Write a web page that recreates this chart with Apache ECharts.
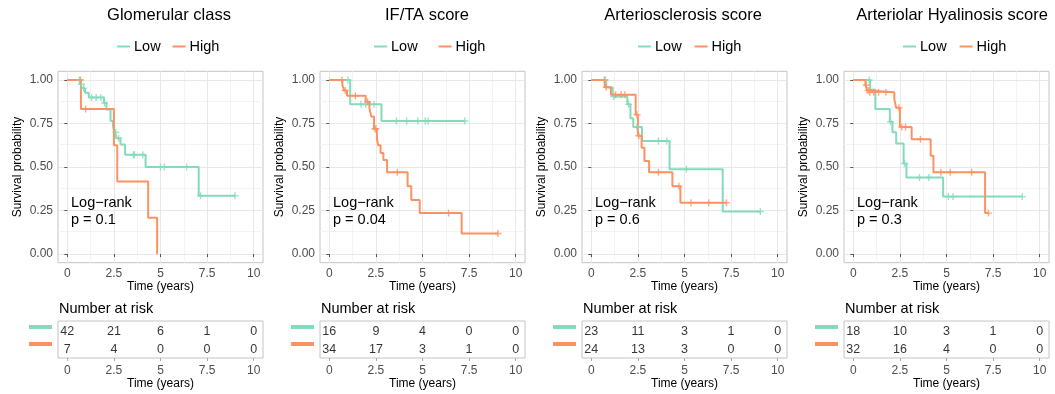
<!DOCTYPE html>
<html><head><meta charset="utf-8">
<script src="https://cdn.jsdelivr.net/npm/echarts@6/dist/echarts.min.js"></script>
<style>html,body{margin:0;padding:0;background:#fff}#c{width:1055px;height:394px}</style>
</head><body><div id="c"></div><script>
// ---------- data ----------
const panelTitles = ['Glomerular class', 'IF/TA score', 'Arteriosclerosis score', 'Arteriolar Hyalinosis score'];
const pValueText = ['p = 0.1', 'p = 0.04', 'p = 0.6', 'p = 0.3'];
const groupNames = ['Low', 'High'];
const xTickValues = [0, 2.5, 5, 7.5, 10];
const yTickValues = [0, 0.25, 0.5, 0.75, 1];
const riskTimes = [0, 2.5, 5, 7.5, 10];

// Panel 1: Glomerular class
const p1LowTime = [0, 0.7, 0.8, 0.95, 1.15, 1.97, 2.1, 2.32, 2.45, 2.55, 2.65, 2.85, 3.1, 4.2, 7.05, 9.0];
const p1LowSurv = [1, 0.976, 0.952, 0.927, 0.90, 0.868, 0.83, 0.765, 0.735, 0.70, 0.665, 0.63, 0.57, 0.50, 0.335, 0.335];
const p1LowCens = [0.65, 0.75, 0.88, 1.3, 1.55, 1.8, 2.0, 2.6, 2.75, 3.55, 3.6, 4.05, 5.0, 5.2, 6.4, 7.15, 9.0];
const p1HighTime = [0, 0.73, 2.5, 2.68, 4.34, 4.82];
const p1HighSurv = [1, 0.833, 0.625, 0.417, 0.208, 0];
const p1HighCens = [0.7, 0.98];
const p1RiskLow = [42, 21, 6, 1, 0];
const p1RiskHigh = [7, 4, 0, 0, 0];

// Panel 2: IF/TA score
const p2LowTime = [0, 1.12, 2.8, 7.27];
const p2LowSurv = [1, 0.86, 0.764, 0.764];
const p2LowCens = [1.0, 1.7, 1.95, 2.4, 3.6, 4.15, 4.75, 5.15, 5.3, 7.27];
const p2HighTime = [0, 0.7, 0.8, 0.95, 1.95, 2.15, 2.25, 2.4, 2.55, 2.62, 2.75, 2.9, 3.1, 4.2, 4.4, 4.85, 7.1, 9.05];
const p2HighSurv = [1, 0.97, 0.94, 0.91, 0.875, 0.84, 0.79, 0.72, 0.665, 0.625, 0.58, 0.54, 0.47, 0.39, 0.31, 0.235, 0.118, 0.118];
const p2HighCens = [0.68, 0.85, 1.4, 2.05, 2.45, 2.5, 3.65, 6.4, 9.05];
const p2RiskLow = [16, 9, 4, 0, 0];
const p2RiskHigh = [34, 17, 3, 1, 0];

// Panel 3: Arteriosclerosis score
const p3LowTime = [0, 0.8, 1.15, 1.93, 2.1, 2.25, 2.72, 4.2, 7.05, 9.07];
const p3LowSurv = [1, 0.957, 0.905, 0.86, 0.78, 0.73, 0.65, 0.487, 0.244, 0.244];
const p3LowCens = [0.75, 1.2, 2.0, 2.45, 3.6, 4.05, 5.1, 9.07];
const p3HighTime = [0, 0.72, 1.05, 2.38, 2.5, 2.7, 2.85, 3.1, 4.35, 4.78, 7.25];
const p3HighSurv = [1, 0.958, 0.915, 0.80, 0.68, 0.61, 0.535, 0.47, 0.39, 0.295, 0.295];
const p3HighCens = [0.7, 0.8, 1.3, 1.6, 1.8, 2.45, 2.55, 3.6, 4.7, 5.35, 6.3, 7.25];
const p3RiskLow = [23, 11, 3, 1, 0];
const p3RiskHigh = [24, 13, 3, 0, 0];

// Panel 4: Arteriolar Hyalinosis score
const p4LowTime = [0, 0.9, 1.18, 1.96, 2.1, 2.3, 2.7, 2.85, 4.82, 9.07];
const p4LowSurv = [1, 0.944, 0.833, 0.76, 0.70, 0.635, 0.52, 0.44, 0.33, 0.33];
const p4LowCens = [0.85, 2.0, 2.75, 3.55, 4.05, 5.1, 5.35, 9.07];
const p4HighTime = [0, 0.65, 0.75, 0.85, 2.2, 2.3, 2.5, 3.13, 4.15, 4.3, 7.07, 7.25];
const p4HighSurv = [1, 0.97, 0.94, 0.93, 0.89, 0.84, 0.73, 0.66, 0.565, 0.47, 0.235, 0.235];
const p4HighCens = [0.7, 0.8, 0.88, 1.1, 1.35, 1.75, 2.45, 2.6, 2.8, 3.6, 4.7, 5.2, 6.35, 7.25];
const p4RiskLow = [18, 10, 3, 1, 0];
const p4RiskHigh = [32, 16, 4, 0, 0];

// ---------- build ----------
const panels = [
  {lt: p1LowTime, ls: p1LowSurv, lc: p1LowCens, ht: p1HighTime, hs: p1HighSurv, hc: p1HighCens, rl: p1RiskLow, rh: p1RiskHigh},
  {lt: p2LowTime, ls: p2LowSurv, lc: p2LowCens, ht: p2HighTime, hs: p2HighSurv, hc: p2HighCens, rl: p2RiskLow, rh: p2RiskHigh},
  {lt: p3LowTime, ls: p3LowSurv, lc: p3LowCens, ht: p3HighTime, hs: p3HighSurv, hc: p3HighCens, rl: p3RiskLow, rh: p3RiskHigh},
  {lt: p4LowTime, ls: p4LowSurv, lc: p4LowCens, ht: p4HighTime, hs: p4HighSurv, hc: p4HighCens, rl: p4RiskLow, rh: p4RiskHigh}
];
const GREEN = '#84dbba';
const ORANGE = '#fc9262';
const FONT = '"Liberation Sans", Arial, Helvetica, sans-serif';
const offsets = [0, 262, 524, 786];
const titleCenters = [169, 427, 683, 952];
const legendLefts = [117, 374, 638, 903];
const legendGaps = [12, 21, 13, 13];
const PLUS = 'path://M4,0H6V4H10V6H6V10H4V6H0V4H4Z';

function survAt(times, surv, t) {
  let v = surv[0];
  for (let i = 0; i < times.length; i++) { if (times[i] <= t) v = surv[i]; }
  return v;
}
function zip(a, b) { return a.map((v, i) => [v, b[i]]); }

const grids = [], xAxes = [], yAxes = [], series = [], titles = [], legends = [], graphics = [];

panels.forEach((p, i) => {
  const off = offsets[i];
  grids.push({left: 58 + off, top: 71.3, width: 205, height: 191.4, show: true, borderColor: '#c4c4c4', borderWidth: 1, backgroundColor: '#fff'});
  xAxes.push({
    gridIndex: i, type: 'value', min: -0.5, max: 10.5,
    axisLine: {show: false},
    axisTick: {show: true, length: 3, lineStyle: {color: '#555'}, customValues: xTickValues},
    axisLabel: {customValues: xTickValues, fontSize: 12, color: '#4d4d4d', margin: 5, fontFamily: FONT, formatter: v => String(v)},
    splitLine: {show: false},
    name: 'Time (years)', nameLocation: 'middle', nameGap: 17,
    nameTextStyle: {fontSize: 12, color: '#000', fontFamily: FONT}
  });
  yAxes.push({
    gridIndex: i, type: 'value', min: -0.05, max: 1.05,
    axisLine: {show: false},
    axisTick: {show: true, length: 3, lineStyle: {color: '#555'}, customValues: yTickValues},
    axisLabel: {customValues: yTickValues, fontSize: 12, color: '#4d4d4d', margin: 5, fontFamily: FONT, formatter: v => v.toFixed(2)},
    splitLine: {show: false},
    name: 'Survival probability', nameLocation: 'middle', nameGap: 34, nameRotate: 90,
    nameTextStyle: {fontSize: 12, color: '#000', fontFamily: FONT}
  });
});
panels.forEach((p, i) => {
  const off = offsets[i];
  grids.push({left: 58 + off, top: 321, width: 205, height: 37, show: true, borderColor: '#c4c4c4', borderWidth: 1});
  xAxes.push({
    gridIndex: 4 + i, type: 'value', min: -0.5, max: 10.5,
    axisLine: {show: false},
    axisTick: {show: true, length: 3, lineStyle: {color: '#aaa'}, customValues: xTickValues},
    axisLabel: {customValues: xTickValues, fontSize: 12, color: '#4d4d4d', margin: 7, fontFamily: FONT, formatter: v => String(v)},
    splitLine: {show: false},
    name: 'Time (years)', nameLocation: 'middle', nameGap: 20,
    nameTextStyle: {fontSize: 12, color: '#000', fontFamily: FONT}
  });
  yAxes.push({
    gridIndex: 4 + i, type: 'category', data: groupNames, inverse: true,
    axisLine: {show: false}, axisTick: {show: false}, axisLabel: {show: false}, splitLine: {show: false}
  });
});

panels.forEach((p, i) => {
  const off = offsets[i];
  // grid lines
  const ml = [];
  [1.25, 3.75, 6.25, 8.75].forEach(v => ml.push({xAxis: v, lineStyle: {color: '#f4f4f4', width: 1}}));
  [0.125, 0.375, 0.625, 0.875].forEach(v => ml.push({yAxis: v, lineStyle: {color: '#f4f4f4', width: 1}}));
  xTickValues.forEach(v => ml.push({xAxis: v, lineStyle: {color: '#e8e8e8', width: 1}}));
  yTickValues.forEach(v => ml.push({yAxis: v, lineStyle: {color: '#e8e8e8', width: 1}}));
  series.push({
    type: 'line', name: 'grid' + i, xAxisIndex: i, yAxisIndex: i, data: [], z: 0, silent: true,
    markLine: {z: 0, silent: true, symbol: 'none', animation: false, label: {show: false}, lineStyle: {type: 'solid'}, data: ml}
  });
  series.push({type: 'line', name: 'Low', color: GREEN, xAxisIndex: i, yAxisIndex: i, step: 'end', showSymbol: false,
    lineStyle: {width: 2, color: GREEN}, data: zip(p.lt, p.ls), z: 3, animation: false});
  series.push({type: 'line', name: 'High', color: ORANGE, xAxisIndex: i, yAxisIndex: i, step: 'end', showSymbol: false,
    lineStyle: {width: 2, color: ORANGE}, data: zip(p.ht, p.hs), z: 4, animation: false});
  series.push({type: 'scatter', name: 'LowCens' + i, xAxisIndex: i, yAxisIndex: i, symbol: PLUS, symbolSize: 7,
    itemStyle: {color: GREEN}, data: p.lc.map(t => [t, survAt(p.lt, p.ls, t)]), z: 5, animation: false});
  series.push({type: 'scatter', name: 'HighCens' + i, xAxisIndex: i, yAxisIndex: i, symbol: PLUS, symbolSize: 7,
    itemStyle: {color: ORANGE}, data: p.hc.map(t => [t, survAt(p.ht, p.hs, t)]), z: 6, animation: false});
  // risk table
  const riskData = [];
  riskTimes.forEach((t, k) => { riskData.push([t, 'Low', p.rl[k]]); riskData.push([t, 'High', p.rh[k]]); });
  series.push({type: 'scatter', name: 'risk' + i, xAxisIndex: 4 + i, yAxisIndex: 4 + i, symbolSize: 1,
    itemStyle: {color: 'rgba(0,0,0,0)'}, data: riskData, animation: false, silent: true,
    label: {show: true, position: 'inside', offset: [0, 1], formatter: d => String(d.value[2]), fontSize: 12.5, color: '#000', fontFamily: FONT}});

  titles.push({text: panelTitles[i], left: titleCenters[i], textAlign: 'center', top: 7, padding: 0,
    textStyle: {fontSize: 16.5, fontWeight: 'normal', color: '#000', fontFamily: FONT}});
  legends.push({data: groupNames, left: legendLefts[i], top: 39, padding: 0, itemGap: legendGaps[i], itemWidth: 13, itemHeight: 2,
    icon: 'rect', selectedMode: false, textStyle: {fontSize: 14.5, color: '#000', fontFamily: FONT, padding: [0, 0, 0, -1]}});

  graphics.push({type: 'text', left: 71 + off, top: 194, z: 20, silent: true,
    style: {text: 'Log\u2212rank\n' + pValueText[i], font: '14.5px ' + FONT, fill: '#000', lineHeight: 17}});
  graphics.push({type: 'text', left: 59 + off, top: 301, z: 20, silent: true,
    style: {text: 'Number at risk', font: '14.5px ' + FONT, fill: '#000'}});
  graphics.push({type: 'rect', left: 29 + off, top: 325, z: 20, silent: true, shape: {width: 23, height: 4}, style: {fill: GREEN}});
  graphics.push({type: 'rect', left: 29 + off, top: 342, z: 20, silent: true, shape: {width: 23, height: 4}, style: {fill: ORANGE}});
});

const chart = echarts.init(document.getElementById('c'), null, {renderer: 'canvas'});
chart.setOption({
  animation: false,
  backgroundColor: '#fff',
  textStyle: {fontFamily: FONT},
  title: titles, legend: legends, grid: grids, xAxis: xAxes, yAxis: yAxes, series: series, graphic: graphics
});
</script></body></html>
